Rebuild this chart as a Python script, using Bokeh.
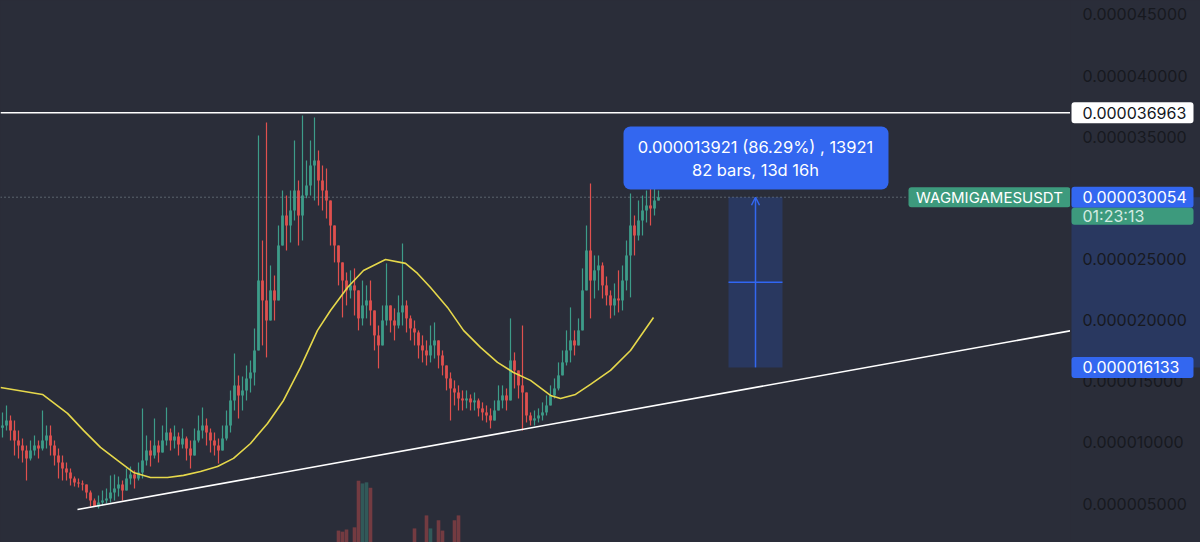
from bokeh.plotting import figure
from bokeh.layouts import row
from bokeh.models import (Range1d, Label, BoxAnnotation, Arrow,
                          OpenHead, Span, ColumnDataSource)
from bokeh.core.properties import value
from bokeh.embed import file_html
from bokeh.resources import INLINE

# ---------------- data (prices in units of 1e-6 USDT) ----------------
first_open = 11.20
close = [11.38, 11.79, 10.97, 10.16, 9.75, 9.34, 8.69, 9.34, 9.75, 9.50,
         10.16, 10.57, 9.75, 8.93, 8.36, 7.87, 7.54, 7.05, 6.72, 6.64,
         6.56, 5.90, 5.25, 4.76, 5.09, 5.25, 5.41, 5.90, 6.23, 6.56,
         6.07, 7.05, 7.38, 7.05, 7.54, 8.52, 9.34, 8.93, 9.75, 9.18,
         10.16, 10.81, 10.16, 10.48, 9.83, 10.32, 9.50, 8.93, 10.16, 10.97,
         11.38, 10.81, 10.16, 9.75, 9.34, 10.32, 11.38, 13.43, 14.66, 13.84,
         14.25, 15.23, 15.72, 17.52, 23.24, 21.61, 19.97, 22.43, 21.61, 26.11,
         28.56, 27.74, 28.97, 30.61, 28.56, 30.20, 31.02, 32.65, 33.06, 31.43,
         30.61, 29.79, 27.74, 26.11, 24.72, 23.24, 22.43, 22.84, 22.43, 20.14,
         21.20, 21.61, 20.79, 18.75, 17.93, 19.97, 21.20, 19.97, 19.56, 20.63,
         21.20, 20.14, 19.32, 18.99, 17.93, 17.52, 17.11, 17.93, 18.34, 17.11,
         16.29, 15.23, 14.41, 14.08, 13.59, 13.43, 13.59, 13.27, 13.43, 12.78,
         12.45, 12.20, 11.79, 12.61, 13.43, 13.84, 13.43, 16.70, 15.88, 14.66,
         14.08, 12.20, 11.79, 11.96, 12.20, 12.45, 13.02, 13.84, 14.41, 15.48,
         16.54, 17.52, 18.34, 17.93, 19.16, 22.43, 25.70, 23.24, 24.07, 24.47,
         22.84, 22.02, 21.20, 21.77, 21.61, 23.24, 25.29, 27.74, 26.93, 28.15,
         28.97, 29.38, 29.14, 29.79, 30.05]
high = [12.45, 13.02, 12.20, 11.79, 10.97, 10.32, 9.75, 10.16, 10.57, 10.16,
        12.61, 11.38, 11.38, 10.16, 9.50, 8.93, 8.36, 7.87, 7.21, 7.05,
        6.88, 6.48, 6.07, 5.41, 5.66, 6.07, 6.23, 7.29, 7.38, 7.21,
        6.88, 7.87, 8.03, 7.70, 8.36, 12.78, 10.57, 10.16, 11.96, 10.16,
        11.38, 12.86, 11.14, 11.38, 10.81, 11.14, 10.48, 10.16, 11.14, 12.20,
        12.86, 11.96, 11.14, 10.81, 10.32, 11.38, 12.61, 14.25, 17.27, 15.48,
        15.39, 16.29, 16.70, 19.32, 35.11, 26.52, 36.17, 24.47, 23.65, 27.74,
        30.61, 30.20, 30.61, 34.70, 31.43, 36.74, 33.06, 34.70, 36.58, 33.88,
        32.65, 32.41, 29.38, 27.74, 26.11, 24.72, 23.90, 24.07, 24.23, 22.02,
        23.24, 22.84, 23.24, 20.14, 19.56, 21.20, 24.64, 21.20, 20.96, 22.02,
        26.27, 21.61, 20.38, 19.97, 19.16, 18.75, 18.34, 19.56, 19.81, 18.34,
        17.52, 16.29, 15.72, 15.07, 14.66, 14.25, 14.25, 13.92, 14.08, 13.59,
        13.27, 13.02, 12.78, 13.43, 14.66, 14.66, 14.41, 20.14, 17.36, 15.88,
        19.56, 13.02, 12.45, 12.61, 12.78, 13.27, 13.84, 14.66, 15.23, 16.54,
        17.52, 19.16, 21.04, 19.16, 20.14, 24.23, 27.74, 31.18, 25.29, 25.29,
        24.72, 23.57, 22.43, 23.00, 24.07, 24.47, 26.52, 30.36, 28.56, 29.79,
        30.20, 30.61, 30.77, 30.93, 30.61]
low = [10.40, 10.97, 10.16, 8.93, 8.69, 8.36, 6.88, 8.52, 8.93, 8.69,
       9.34, 9.50, 8.93, 8.11, 7.05, 6.88, 6.88, 6.48, 6.39, 6.31,
       6.07, 5.41, 4.76, 4.80, 4.59, 4.84, 5.00, 5.09, 5.25, 5.58,
       5.25, 6.39, 6.56, 6.23, 6.88, 7.05, 8.11, 8.03, 8.69, 8.36,
       9.18, 9.75, 9.34, 9.50, 8.93, 9.50, 8.52, 7.87, 9.18, 9.99,
       10.32, 9.75, 9.18, 8.93, 8.28, 9.50, 10.16, 10.81, 12.61, 11.96,
       12.61, 13.43, 14.08, 14.66, 18.33, 17.93, 16.95, 20.14, 19.97, 22.43,
       26.11, 25.70, 26.35, 28.15, 26.11, 26.52, 29.97, 30.20, 29.79, 29.38,
       28.97, 28.32, 26.11, 24.72, 22.84, 20.22, 21.20, 21.77, 20.38, 19.16,
       19.56, 20.14, 19.56, 17.52, 16.05, 18.99, 19.56, 18.99, 18.34, 19.32,
       19.56, 18.99, 18.34, 17.93, 16.86, 16.54, 16.29, 16.54, 16.86, 16.05,
       15.48, 14.25, 11.79, 13.02, 12.61, 12.61, 12.78, 12.61, 12.61, 12.12,
       11.79, 11.63, 11.14, 11.96, 12.61, 12.78, 12.61, 13.84, 14.41, 13.59,
       10.97, 11.63, 11.38, 11.38, 11.63, 11.79, 12.20, 13.02, 13.59, 14.25,
       15.48, 16.29, 16.54, 17.11, 17.93, 20.63, 23.65, 20.14, 21.77, 22.43,
       21.77, 21.20, 20.14, 20.38, 20.63, 20.79, 22.43, 21.86, 25.29, 26.52,
       26.93, 27.99, 27.74, 28.56, 29.81]

vol_index = [84, 85, 86, 88, 89, 90, 91, 92, 103, 106, 107, 109, 110, 113, 114]
vol_value = [2.2, 2.0, 2.4, 2.8, 11.4, 10.9, 11.1, 10.1, 2.6, 5.0, 2.6, 4.1, 2.2, 4.1, 5.0]

ma_x = [-0.5, 10, 16.25, 20.25, 24.5, 28.75, 32.75, 37, 41.25, 45.25, 49.5, 53.75,
        57.75, 62, 66.25, 70.25, 74.5, 78.75, 82, 86.25, 90.25, 95.75, 100.75,
        103.75, 107, 111.25, 115.25, 119.5, 123.75, 127.75, 132, 137, 139.5,
        143.25, 147, 152, 157, 162.75]
ma_y = [14.49, 13.92, 12.37, 10.98, 9.59, 8.52, 7.54, 7.13, 7.13, 7.30, 7.62, 8.03,
        8.69, 9.91, 11.55, 13.43, 16.13, 19.16, 20.79, 22.67, 24.06, 24.96, 24.64,
        23.82, 22.67, 21.04, 19.16, 17.77, 16.54, 15.72, 15.07, 13.84, 13.59,
        13.92, 14.74, 15.89, 17.52, 20.22]

trend_x = [18.75, 267.5]
trend_y = [4.51, 19.16]

resistance = 36.963
last_price = 30.054
measure_low = 16.133
countdown = "01:23:13"
symbol = "WAGMIGAMESUSDT"
measure_text_1 = "0.000013921 (86.29%) , 13921"
measure_text_2 = "82 bars, 13d 16h"
price_labels = ["0.000036963", "0.000030054", "0.000016133"]

tick_values = [5, 10, 15, 20, 25, 30, 35, 40, 45]
tick_labels = ["0.000005000", "0.000010000", "0.000015000", "0.000020000",
               "0.000025000", "0.000030000", "0.000035000", "0.000040000",
               "0.000045000"]

# ---------------- styling ----------------
BG = "#2a2d39"
UP = "#3d9c89"
DOWN = "#e0504e"
BLUE = "#3367f0"
GREEN_LBL = "#3d9a7d"
FONT = "Inter"

n = len(close)
idx = list(range(n))
opens = [first_open] + close[:-1]
hi = [max(h, o, c) for h, o, c in zip(high, opens, close)]
lo = [min(l, o, c) for l, o, c in zip(low, opens, close)]
colors = [UP if c >= o else DOWN for o, c in zip(opens, close)]
src = ColumnDataSource(dict(x=idx, open=opens, close=close, high=hi, low=lo, color=colors))
vol_colors = [colors[i] for i in vol_index]

yr = Range1d(1.81, 46.145)


def base_fig(width, xr):
    f = figure(width=width, height=542, x_range=xr, y_range=yr,
               x_axis_location=None, y_axis_location=None,
               output_backend="svg", toolbar_location=None,
               min_border_left=0, min_border_right=0, min_border_top=0, min_border_bottom=0)
    f.background_fill_color = BG
    f.border_fill_color = BG
    f.outline_line_color = None
    f.outline_line_alpha = 0
    f.grid.visible = False
    f.styles = {"background-color": BG}
    return f


p = base_fig(1070, Range1d(-0.5, 267.0))

# volume (overlay scale)
p.extra_y_ranges = {"vol": Range1d(0, 100)}
p.vbar(x=vol_index, top=vol_value, bottom=0, width=0.9, y_range_name="vol",
       fill_color=vol_colors, fill_alpha=0.4, line_color=None)

# candles
p.segment(x0="x", y0="low", x1="x", y1="high", color="color", line_width=1.2, source=src)
p.vbar(x="x", width=0.7, top="open", bottom="close", fill_color="color",
       line_color=None, source=src)

# moving average
p.line(ma_x, ma_y, line_color="#e6d84b", line_width=1.6)

# trend line and resistance
p.line(trend_x, trend_y, line_color="white", line_width=1.6)
p.add_layout(Span(location=resistance, dimension="width", line_color="white", line_width=1.6))

# last price dotted line
p.line([-0.5, 225.75], [last_price, last_price], line_color="#8c9aa3",
       line_dash="1 3", line_width=1)

# symbol label
p.add_layout(BoxAnnotation(left=226.5, right=267.0, top=last_price + 0.82, bottom=last_price - 0.82,
                           fill_color=GREEN_LBL, fill_alpha=1, line_color=None, border_radius=3))
p.add_layout(Label(x=246.75, y=last_price, text=symbol, text_align="center", text_baseline="middle",
                   text_color="white", text_font=FONT, text_font_size="15px"))

# measurement box
mx0, mx1 = 181.5, 195.0
mxc = (mx0 + mx1) / 2
p.add_layout(BoxAnnotation(left=mx0, right=mx1, top=last_price, bottom=measure_low,
                           fill_color="#2962ff", fill_alpha=0.2, line_color=None))
p.line([mx0, mx1], [(last_price + measure_low) / 2] * 2, line_color=BLUE, line_width=1.5)
p.add_layout(Arrow(end=OpenHead(size=8, line_color=BLUE, line_width=1.5),
                   x_start=mxc, y_start=measure_low, x_end=mxc, y_end=last_price,
                   line_color=BLUE, line_width=1.5))

# measurement tooltip
p.add_layout(BoxAnnotation(left=155.25, right=221.5, top=35.84, bottom=30.69,
                           fill_color=BLUE, fill_alpha=1, line_color=None, border_radius=7))
p.add_layout(Label(x=mxc, y=34.20, text=measure_text_1, text_align="center", text_baseline="middle",
                   text_color="white", text_font=FONT, text_font_size="16.5px"))
p.add_layout(Label(x=mxc, y=32.32, text=measure_text_2, text_align="center", text_baseline="middle",
                   text_color="white", text_font=FONT, text_font_size="16.5px"))

# ---------------- price scale column ----------------
s = base_fig(130, Range1d(0, 130))

# measured range band
s.quad(left=1, right=130, top=last_price, bottom=measure_low,
       fill_color="#2962ff", fill_alpha=0.2, line_color=None)

# tick labels
s.text(x=[12] * len(tick_values), y=tick_values, text=tick_labels,
       text_font=value(FONT), text_font_size="16px", text_color="#17191f",
       text_baseline="middle", text_align="left")

# price labels
lbl_vals = [resistance, last_price, measure_low]
lbl_fill = ["white", BLUE, BLUE]
lbl_text_color = ["#131722", "white", "white"]
for v, t, fc, tc in zip(lbl_vals, price_labels, lbl_fill, lbl_text_color):
    s.add_layout(BoxAnnotation(left=1, right=123, top=v + 0.86, bottom=v - 0.86,
                               fill_color=fc, fill_alpha=1, line_color=None, border_radius=3))
    s.add_layout(Label(x=12, y=v, text=t, text_align="left", text_baseline="middle",
                       text_color=tc, text_font=FONT, text_font_size="16px"))
s.add_layout(BoxAnnotation(left=1, right=123, top=last_price - 0.86, bottom=last_price - 2.25,
                           fill_color=GREEN_LBL, fill_alpha=1, line_color=None, border_radius=3))
s.add_layout(Label(x=12, y=last_price - 1.55, text=countdown, text_align="left",
                   text_baseline="middle", text_color="#d3ebe2", text_font=FONT,
                   text_font_size="16px"))

layout = row(p, s, spacing=0, styles={"background-color": BG})
open("out.html", "w").write(file_html(layout, INLINE))
